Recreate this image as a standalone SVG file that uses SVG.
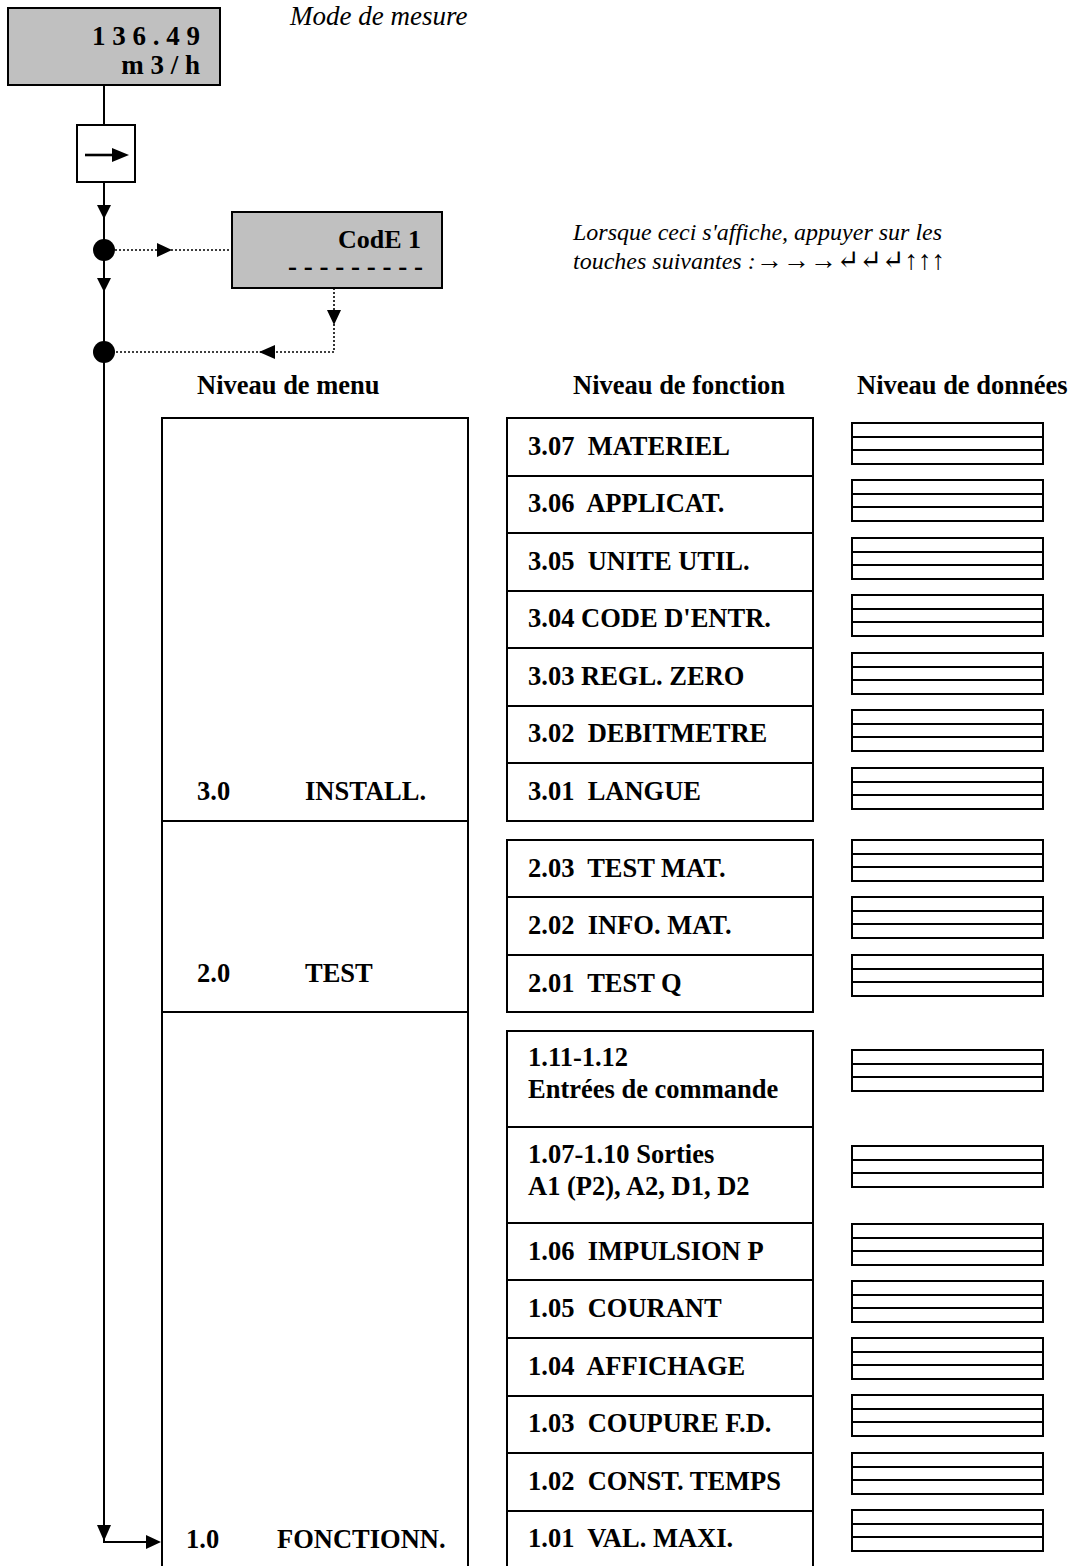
<svg xmlns="http://www.w3.org/2000/svg" xmlns:xlink="http://www.w3.org/1999/xlink" width="1071" height="1566" viewBox="0 0 1071 1566">
<style>
.t{font-family:"Liberation Serif","Times New Roman",serif;font-weight:bold;font-size:26.5px;fill:#000;white-space:pre}
.i{font-family:"Liberation Serif","Times New Roman","DejaVu Serif",serif;font-style:italic;font-size:27px;fill:#000}
.box{fill:#fff;stroke:#000;stroke-width:2}
.gray{fill:#c0c0c0;stroke:#000;stroke-width:2}
.ln{fill:none;stroke:#000;stroke-width:2}
.dot{fill:none;stroke:#000;stroke-width:1.6;stroke-dasharray:2 2}
</style>
<defs>
<g id="db">
<rect x="0" y="0" width="191" height="41" class="box"/>
<line x1="0" y1="14" x2="191" y2="14" class="ln"/>
<line x1="0" y1="27" x2="191" y2="27" class="ln"/>
</g>
</defs>
<rect width="1071" height="1566" fill="#fff"/>

<g id="connectors">
<line x1="104" y1="85" x2="104" y2="125" class="ln"/>
<line x1="104" y1="182" x2="104" y2="1542" class="ln"/>
<line x1="103" y1="1542" x2="150" y2="1542" class="ln"/>
<polygon points="97,205 111,205 104,219"/>
<polygon points="97,278 111,278 104,292"/>
<polygon points="97,1525 111,1525 104,1541"/>
<polygon points="146,1535 146,1549 161,1542"/>
<circle cx="104" cy="250" r="11"/>
<circle cx="104" cy="352" r="11"/>
<line x1="115" y1="250" x2="232" y2="250" class="dot"/>
<polygon points="157,243 157,257 172,250"/>
<polyline points="334,288 334,352 115,352" class="dot"/>
<polygon points="327,310 341,310 334,325"/>
<polygon points="275,345 275,359 259,352"/>
</g>

<g id="display">
<rect x="8" y="8" width="212" height="77" class="gray"/>
<text x="200" y="45" class="t" text-anchor="end" style="font-size:27px">1 3 6 . 4 9</text>
<text x="200" y="74" class="t" text-anchor="end" style="font-size:27px">m 3 / h</text>
</g>
<text x="290" y="25" class="i">Mode de mesure</text>

<g id="key-right">
<rect x="77" y="125" width="58" height="57" class="box"/>
<line x1="85" y1="155" x2="116" y2="155" stroke="#000" stroke-width="2.6"/>
<polygon points="112,148 112,162 129,155"/>
</g>

<g id="code">
<rect x="232" y="212" width="210" height="76" class="gray"/>
<text x="421" y="248" class="t" text-anchor="end" style="font-size:26px">CodE 1</text>
<text x="423" y="275" class="t" text-anchor="end" style="font-size:27px">- - - - - - - - -</text>
</g>

<g id="note">
<text x="573" y="240" class="i" style="font-size:24px">Lorsque ceci s'affiche, appuyer sur les</text>
<text x="573" y="269" class="i" style="font-size:24px">touches suivantes :<tspan style="font-size:27px">→→→↵↵↵↑↑↑</tspan></text>
</g>

<g id="headers">
<text x="197" y="394" class="t">Niveau de menu</text>
<text x="573" y="394" class="t">Niveau de fonction</text>
<text x="857" y="394" class="t">Niveau de données</text>
</g>

<g id="menu">
<rect x="162" y="418" width="306" height="1160" class="box"/>
<line x1="162" y1="821" x2="468" y2="821" class="ln"/>
<line x1="162" y1="1012" x2="468" y2="1012" class="ln"/>
<text x="197" y="800" class="t">3.0</text>
<text x="305" y="800" class="t">INSTALL.</text>
<text x="197" y="982" class="t">2.0</text>
<text x="305" y="982" class="t">TEST</text>
<text x="186" y="1548" class="t">1.0</text>
<text x="277" y="1548" class="t">FONCTIONN.</text>
</g>

<g id="functions-3">
<rect x="507" y="418" width="306" height="403" class="box"/>
<line x1="507" y1="476" x2="813" y2="476" class="ln"/>
<line x1="507" y1="533" x2="813" y2="533" class="ln"/>
<line x1="507" y1="591" x2="813" y2="591" class="ln"/>
<line x1="507" y1="648" x2="813" y2="648" class="ln"/>
<line x1="507" y1="706" x2="813" y2="706" class="ln"/>
<line x1="507" y1="763" x2="813" y2="763" class="ln"/>
<text x="528" y="455" class="t">3.07  MATERIEL</text>
<text x="528" y="512" class="t">3.06  APPLICAT.</text>
<text x="528" y="570" class="t">3.05  UNITE UTIL.</text>
<text x="528" y="627" class="t">3.04 CODE D'ENTR.</text>
<text x="528" y="685" class="t">3.03 REGL. ZERO</text>
<text x="528" y="742" class="t">3.02  DEBITMETRE</text>
<text x="528" y="800" class="t">3.01  LANGUE</text>
</g>

<g id="functions-2">
<rect x="507" y="840" width="306" height="172" class="box"/>
<line x1="507" y1="897" x2="813" y2="897" class="ln"/>
<line x1="507" y1="955" x2="813" y2="955" class="ln"/>
<text x="528" y="877" class="t">2.03  TEST MAT.</text>
<text x="528" y="934" class="t">2.02  INFO. MAT.</text>
<text x="528" y="992" class="t">2.01  TEST Q</text>
</g>

<g id="functions-1">
<rect x="507" y="1031" width="306" height="547" class="box"/>
<line x1="507" y1="1127" x2="813" y2="1127" class="ln"/>
<line x1="507" y1="1223" x2="813" y2="1223" class="ln"/>
<line x1="507" y1="1280" x2="813" y2="1280" class="ln"/>
<line x1="507" y1="1338" x2="813" y2="1338" class="ln"/>
<line x1="507" y1="1396" x2="813" y2="1396" class="ln"/>
<line x1="507" y1="1453" x2="813" y2="1453" class="ln"/>
<line x1="507" y1="1511" x2="813" y2="1511" class="ln"/>
<text x="528" y="1066" class="t">1.11-1.12</text>
<text x="528" y="1098" class="t">Entrées de commande</text>
<text x="528" y="1163" class="t">1.07-1.10 Sorties</text>
<text x="528" y="1195" class="t">A1 (P2), A2, D1, D2</text>
<text x="528" y="1260" class="t">1.06  IMPULSION P</text>
<text x="528" y="1317" class="t">1.05  COURANT</text>
<text x="528" y="1375" class="t">1.04  AFFICHAGE</text>
<text x="528" y="1432" class="t">1.03  COUPURE F.D.</text>
<text x="528" y="1490" class="t">1.02  CONST. TEMPS</text>
<text x="528" y="1547" class="t">1.01  VAL. MAXI.</text>
</g>

<g id="data">
<use xlink:href="#db" x="852" y="423"/>
<use xlink:href="#db" x="852" y="480"/>
<use xlink:href="#db" x="852" y="538"/>
<use xlink:href="#db" x="852" y="595"/>
<use xlink:href="#db" x="852" y="653"/>
<use xlink:href="#db" x="852" y="710"/>
<use xlink:href="#db" x="852" y="768"/>
<use xlink:href="#db" x="852" y="840"/>
<use xlink:href="#db" x="852" y="897"/>
<use xlink:href="#db" x="852" y="955"/>
<use xlink:href="#db" x="852" y="1050"/>
<use xlink:href="#db" x="852" y="1146"/>
<use xlink:href="#db" x="852" y="1224"/>
<use xlink:href="#db" x="852" y="1281"/>
<use xlink:href="#db" x="852" y="1338"/>
<use xlink:href="#db" x="852" y="1395"/>
<use xlink:href="#db" x="852" y="1453"/>
<use xlink:href="#db" x="852" y="1510"/>
</g>
</svg>
